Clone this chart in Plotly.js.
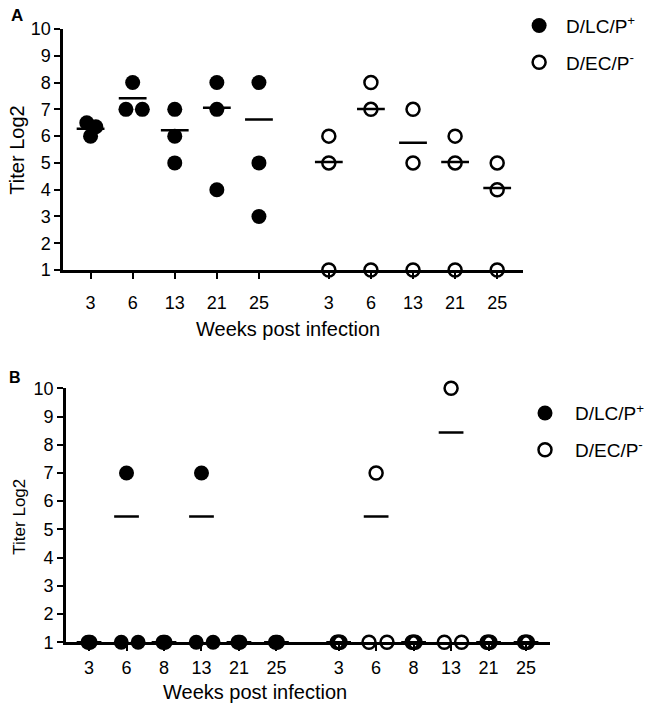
<!DOCTYPE html>
<html>
<head>
<meta charset="utf-8">
<script src="https://cdn.plot.ly/plotly-3.0.1.min.js"></script>
<style>html,body{margin:0;padding:0;background:#fff;}#chart{width:650px;height:713px;}</style>
</head>
<body>
<div id="chart"></div>
<script>
// ---------- DATA ----------
const weeksA = ['3', '6', '13', '21', '25'];
const weeksB = ['3', '6', '8', '13', '21', '25'];

// Panel A: titer (log2) per animal, per time point
const aLC = [[6.5, 6.35, 6.0], [8, 7, 7], [7, 6, 5], [8, 7, 4], [8, 5, 3]];
const aEC = [[6, 5, 1], [8, 7, 1], [7, 5, 1], [6, 5, 1], [5, 4, 1]];
const aLCmean = [6.28, 7.41, 6.22, 7.06, 6.62];
const aECmean = [5.03, 7.01, 5.75, 5.03, 4.06];

// Panel B
const bLC = [[1, 1, 1], [7, 1, 1], [1, 1, 1], [7, 1, 1], [1, 1, 1], [1, 1, 1]];
const bEC = [[1, 1, 1], [7, 1, 1], [1, 1, 1], [10, 1, 1], [1, 1, 1], [1, 1, 1]];
const bLCmean = [1, 5.46, 1, 5.46, 1, 1];
const bECmean = [1, 5.46, 1, 8.43, 1, 1];

const nameLC = 'D/LC/P<sup>+</sup>';
const nameEC = 'D/EC/P<sup>-</sup>';

// ---------- LAYOUT / STYLE (not data) ----------
const GAP = 1.66;        // spacing between the two groups (in category steps)
const HALF = 0.33;       // half-width of mean bar
// horizontal scatter offsets of overlapping points
const jitALC = [[-0.09, 0.125, 0], [0, -0.16, 0.23], [0, 0, 0], [0, 0, 0], [0, 0, 0]];
const jitAEC = [[0, 0, 0], [0, 0, 0], [0, 0, 0], [0, 0, 0], [0, 0, 0]];
const jitBLC = [[-0.03, 0, 0.03], [0, -0.14, 0.31], [-0.03, 0, 0.03], [0, -0.14, 0.31], [-0.03, 0, 0.03], [-0.03, 0, 0.03]];
const jitBEC = [[-0.04, 0, 0.04], [0, -0.19, 0.29], [-0.04, 0, 0.04], [0, -0.18, 0.28], [-0.04, 0, 0.04], [-0.04, 0, 0.04]];

const FONT = 'Liberation Sans, Arial, Helvetica, sans-serif';
const TICKSIZE = 18;

function pointsTrace(groups, jit, base, xa, ya, name, filled, legend, showleg) {
  const x = [], y = [];
  groups.forEach((g, k) => g.forEach((v, i) => { x.push(base + k + jit[k][i]); y.push(v); }));
  return {
    type: 'scatter', mode: 'markers', x: x, y: y, xaxis: xa, yaxis: ya,
    name: name, legend: legend, legendgroup: legend + name, showlegend: showleg,
    cliponaxis: false, hoverinfo: 'y',
    marker: filled
      ? {symbol: 'circle', size: 15, color: '#000', line: {width: 0}}
      : {symbol: 'circle-open', size: 13, color: '#000', line: {width: 2.5, color: '#000'}}
  };
}
function meanTrace(means, base, xa, ya) {
  const x = [], y = [];
  means.forEach((m, k) => { x.push(base + k - HALF, base + k + HALF, null); y.push(m, m, null); });
  return {type: 'scatter', mode: 'lines', x: x, y: y, xaxis: xa, yaxis: ya, showlegend: false,
          cliponaxis: false, hoverinfo: 'skip', line: {color: '#000', width: 2.5}};
}

const baseA_LC = 1, baseA_EC = 1 + weeksA.length - 1 + GAP;
const baseB_LC = 1, baseB_EC = 1 + weeksB.length - 1 + GAP;

const traces = [
  pointsTrace(aLC, jitALC, baseA_LC, 'x', 'y', nameLC, true, 'legend', true),
  pointsTrace(aEC, jitAEC, baseA_EC, 'x', 'y', nameEC, false, 'legend', true),
  meanTrace(aLCmean, baseA_LC, 'x', 'y'),
  meanTrace(aECmean, baseA_EC, 'x', 'y'),
  pointsTrace(bLC, jitBLC, baseB_LC, 'x2', 'y2', nameLC, true, 'legend2', true),
  pointsTrace(bEC, jitBEC, baseB_EC, 'x2', 'y2', nameEC, false, 'legend2', true),
  meanTrace(bLCmean, baseB_LC, 'x2', 'y2'),
  meanTrace(bECmean, baseB_EC, 'x2', 'y2')
];

const tvA = weeksA.map((w, k) => baseA_LC + k).concat(weeksA.map((w, k) => baseA_EC + k));
const ttA = weeksA.concat(weeksA);
const tvB = weeksB.map((w, k) => baseB_LC + k).concat(weeksB.map((w, k) => baseB_EC + k));
const ttB = weeksB.concat(weeksB);
const yt = [1, 2, 3, 4, 5, 6, 7, 8, 9, 10];

function xAxis(domain, range, tv, tt, anchor, standoff) {
  return {domain: domain, range: range, anchor: anchor, tickmode: 'array', tickvals: tv, ticktext: tt,
          tickangle: 0, showline: true, linecolor: '#000', linewidth: 2.5, ticks: 'outside', ticklen: 6, tickwidth: 2,
          tickcolor: '#000', showgrid: false, zeroline: false, ticklabelstandoff: standoff,
          tickfont: {family: FONT, size: TICKSIZE, color: '#000'}, fixedrange: true};
}
function yAxis(domain, anchor) {
  return {domain: domain, range: [1, 10], anchor: anchor, tickmode: 'array', tickvals: yt,
          showline: true, linecolor: '#000', linewidth: 2.5, ticks: 'outside', ticklen: 6, tickwidth: 2,
          tickcolor: '#000', showgrid: false, zeroline: false,
          tickfont: {family: FONT, size: TICKSIZE, color: '#000'}, fixedrange: true};
}

const layout = {
  width: 650, height: 713, margin: {l: 0, r: 0, t: 0, b: 0},
  paper_bgcolor: '#fff', plot_bgcolor: 'rgba(0,0,0,0)',
  font: {family: FONT, color: '#000'},
  xaxis: xAxis([0.0969, 0.8069], [0.34, 11.27], tvA, ttA, 'y', 9),
  yaxis: yAxis([0.6213, 0.9593], 'x'),
  xaxis2: xAxis([0.1011, 0.8488], [0.372, 13.30], tvB, ttB, 'y2', 2),
  yaxis2: yAxis([0.0992, 0.4554], 'x2'),
  legend: {x: 0.7903, xanchor: 'left', y: 0.9906, yanchor: 'top', itemwidth: 44, traceorder: 'grouped',
           tracegroupgap: 9, bgcolor: 'rgba(0,0,0,0)', font: {family: FONT, size: 19, color: '#000'}},
  legend2: {x: 0.7949, xanchor: 'left', y: 0.4471, yanchor: 'top', itemwidth: 50, traceorder: 'grouped',
            tracegroupgap: 9, bgcolor: 'rgba(0,0,0,0)', font: {family: FONT, size: 19, color: '#000'}},
  annotations: [
    {text: '<b>A</b>', xref: 'paper', yref: 'paper', x: 0.0257, y: 0.9776, showarrow: false,
     xanchor: 'center', yanchor: 'middle', font: {family: FONT, size: 17}},
    {text: '<b>B</b>', xref: 'paper', yref: 'paper', x: 0.0231, y: 0.4712, showarrow: false,
     xanchor: 'center', yanchor: 'middle', font: {family: FONT, size: 16}},
    {text: 'Titer Log2', xref: 'paper', yref: 'paper', x: 0.0257, y: 0.7896, textangle: -90, showarrow: false,
     xanchor: 'center', yanchor: 'middle', font: {family: FONT, size: 20}},
    {text: 'Titer Log2', xref: 'paper', yref: 'paper', x: 0.0308, y: 0.2753, textangle: -90, showarrow: false,
     xanchor: 'center', yanchor: 'middle', font: {family: FONT, size: 17}},
    {text: 'Weeks post infection', xref: 'paper', yref: 'paper', x: 0.4446, y: 0.5379, showarrow: false,
     xanchor: 'center', yanchor: 'middle', font: {family: FONT, size: 20}},
    {text: 'Weeks post infection', xref: 'paper', yref: 'paper', x: 0.3938, y: 0.0295, showarrow: false,
     xanchor: 'center', yanchor: 'middle', font: {family: FONT, size: 20}}
  ]
};

Plotly.newPlot('chart', traces, layout, {displayModeBar: false, staticPlot: true});
</script>
</body>
</html>
